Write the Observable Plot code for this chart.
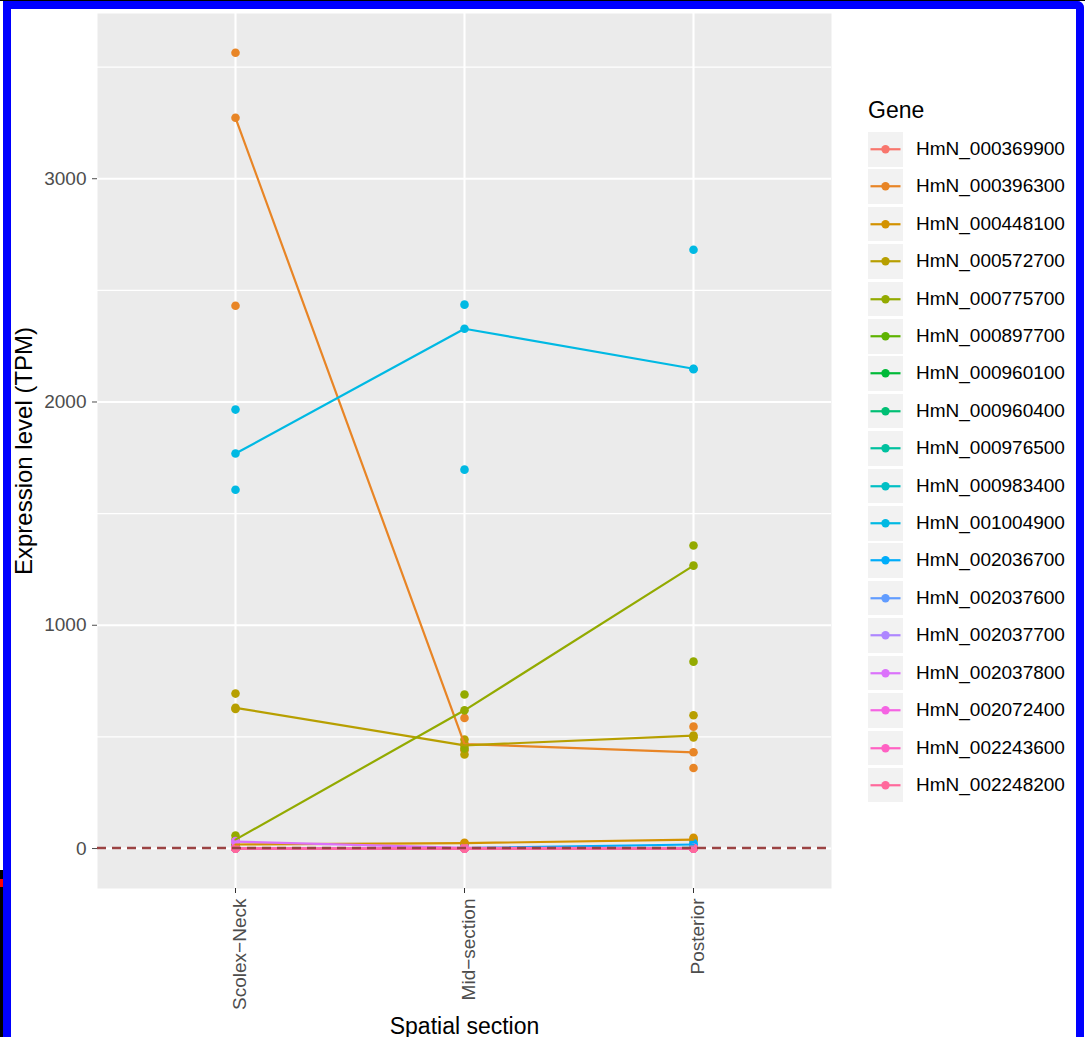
<!DOCTYPE html>
<html>
<head>
<meta charset="utf-8">
<script src="https://cdn.jsdelivr.net/npm/d3@7"></script>
<script src="https://cdn.jsdelivr.net/npm/@observablehq/plot@0.6"></script>
<style>
  html, body { margin: 0; padding: 0; background: #fff; }
  body { width: 1085px; height: 1037px; position: relative; overflow: hidden;
         font-family: "Liberation Sans", Arial, Helvetica, sans-serif; }
  #chart { position: absolute; left: 0; top: 0; }
  #legend { position: absolute; left: 868px; top: 98px; color: #000; }
  #legend .title { font-size: 23px; height: 34px; line-height: 24px; }
  #legend .row { height: 37.42px; display: flex; align-items: flex-start; }
  #legend .key { width: 35px; height: 34.5px; background: #F2F2F2; }
  #legend .lab { font-size: 19px; margin-left: 13px; line-height: 34.5px; }
  .frame { position: absolute; left: 3px; top: 1px; width: 1065px; height: 1100px;
           border-top: 8px solid #0000FF; border-left: 8px solid #0000FF; border-right: 8px solid #0000FF;
           border-top-right-radius: 7px; pointer-events: none; }
  .topline { position: absolute; left: 0; top: 0; width: 1085px; height: 1px; background: #000; }
  .leftblack { position: absolute; left: 0; top: 870px; width: 3px; height: 167px; background: #000; }
  .leftred { position: absolute; left: 0; top: 879px; width: 3px; height: 8px; background: #f00; }
</style>
</head>
<body>
<div id="chart"></div>
<div id="legend"></div>
<div class="topline"></div>
<div class="leftblack"></div>
<div class="leftred"></div>
<div class="frame"></div>
<script>
// ---------------- data ----------------
const sections = ["Scolex\u2212Neck", "Mid\u2212section", "Posterior"];
const genes = [
  "HmN_000369900", "HmN_000396300", "HmN_000448100", "HmN_000572700",
  "HmN_000775700", "HmN_000897700", "HmN_000960100", "HmN_000960400",
  "HmN_000976500", "HmN_000983400", "HmN_001004900", "HmN_002036700",
  "HmN_002037600", "HmN_002037700", "HmN_002037800", "HmN_002072400",
  "HmN_002243600", "HmN_002248200"
];
// three replicate values (TPM) per gene, one array per spatial section
const scolexNeck = [
  [2, 1, 0], [3564, 3273, 2431], [22, 18, 14], [694, 630, 625],
  [58, 40, 30], [3, 2, 1], [2, 1, 1], [1, 1, 0],
  [2, 1, 0], [3, 2, 1], [1966, 1769, 1607], [2, 1, 1],
  [3, 2, 1], [4, 2, 1], [33, 31, 28], [2, 1, 0],
  [1, 0, 0], [1, 0, 0]
];
const midSection = [
  [1, 0, 0], [585, 468, 440], [26, 24, 20], [488, 462, 421],
  [690, 619, 448], [2, 1, 0], [1, 1, 0], [1, 0, 0],
  [1, 1, 0], [2, 1, 0], [2436, 2328, 1697], [3, 2, 1],
  [2, 1, 0], [2, 1, 1], [4, 3, 2], [1, 0, 0],
  [1, 0, 0], [0, 0, 0]
];
const posterior = [
  [2, 1, 0], [546, 431, 361], [48, 40, 36], [597, 506, 498],
  [1357, 1267, 837], [3, 2, 1], [2, 1, 0], [1, 1, 0],
  [2, 1, 0], [4, 3, 2], [2682, 2149, 2147], [25, 18, 12],
  [3, 2, 1], [2, 1, 0], [3, 2, 1], [2, 1, 0],
  [1, 0, 0], [1, 0, 0]
];
const yTicks = [0, 1000, 2000, 3000];
const yMinorTicks = [500, 1500, 2500, 3500];
const threshold = [2];

// ---------------- build long table ----------------
const bySection = [scolexNeck, midSection, posterior];
const rows = [];
genes.forEach((g, gi) => {
  sections.forEach((s, si) => {
    bySection[si][gi].forEach(v => rows.push({gene: g, section: s, value: v}));
  });
});

// ggplot2 default hue palette (hcl, polar Luv, l=65, c=100)
function hclLuv(h, c, l) {
  const hr = h * Math.PI / 180;
  const U = c * Math.cos(hr), V = c * Math.sin(hr);
  const Y = 100 * (l > 7.999592 ? Math.pow((l + 16) / 116, 3) : l / 903.3);
  const XN = 95.047, YN = 100, ZN = 108.883;
  const t = XN + 15 * YN + 3 * ZN, un = 4 * XN / t, vn = 9 * YN / t;
  const u = U / (13 * l) + un, v = V / (13 * l) + vn;
  const X = 9 * Y * u / (4 * v);
  const Z = -X / 3 - 5 * Y + 3 * Y / v;
  const lin = [
    ( 3.240479 * X - 1.537150 * Y - 0.498535 * Z) / 100,
    (-0.969256 * X + 1.875992 * Y + 0.041556 * Z) / 100,
    ( 0.055648 * X - 0.204043 * Y + 1.057311 * Z) / 100
  ];
  const gam = x => x <= 0.0031308 ? 12.92 * x : 1.055 * Math.pow(x, 1 / 2.4) - 0.055;
  const rgb = lin.map(x => Math.round(255 * Math.min(1, Math.max(0, gam(x)))));
  return d3.rgb(rgb[0], rgb[1], rgb[2]).formatHex();
}
const palette = genes.map((g, i) => hclLuv(15 + 360 * i / genes.length, 100, 65));

const FONT = '"Liberation Sans", Arial, Helvetica, sans-serif';

const chart = Plot.plot({
  width: 850,
  height: 1037,
  marginLeft: 97,
  marginRight: 19,
  marginTop: 13,
  marginBottom: 149,
  style: { fontFamily: FONT, fontSize: "19px", background: "transparent", overflow: "visible" },
  x: { type: "point", domain: sections, padding: 0.6, axis: null },
  y: { domain: [-179, 3740], axis: null },
  color: { domain: genes, range: palette },
  marks: [
    Plot.frame({ fill: "#EBEBEB", stroke: null }),
    Plot.ruleY(yMinorTicks, { stroke: "#fff", strokeWidth: 1.1 }),
    Plot.ruleY(yTicks, { stroke: "#fff", strokeWidth: 2.1 }),
    Plot.ruleX(sections, { stroke: "#fff", strokeWidth: 2.1 }),
    Plot.dot(rows, { x: "section", y: "value", fill: "gene", r: 4.3, stroke: null }),
    Plot.lineY(rows, Plot.groupX({ y: "median" },
      { x: "section", y: "value", z: "gene", stroke: "gene", strokeWidth: 2.2 })),
    Plot.ruleY(threshold, { stroke: "#9B4343", strokeWidth: 2.5, strokeDasharray: "9,6" }),
    Plot.axisY({ ticks: yTicks, tickSize: 5, tickPadding: 6, label: null, color: "#4D4D4D",
                 fontSize: 19, tickFormat: d => String(d) }),
    Plot.axisX({ tickSize: 5, label: null, color: "#333333", tickFormat: () => "" }),
    Plot.text(sections, { x: d => d, frameAnchor: "bottom", rotate: -90, textAnchor: "end",
                          dy: 10, dx: 10, fill: "#4D4D4D", fontSize: 19 }),
    Plot.text(["Expression level (TPM)"], { frameAnchor: "left", rotate: -90, dx: -73,
                          textAnchor: "middle", fill: "#000", fontSize: 24 }),
    Plot.text(["Spatial section"], { frameAnchor: "bottom", dy: 145, lineAnchor: "bottom",
                          textAnchor: "middle", fill: "#000", fontSize: 23 })
  ]
});
document.getElementById("chart").appendChild(chart);

// ---------------- legend ----------------
const legend = document.getElementById("legend");
const title = document.createElement("div");
title.className = "title";
title.textContent = "Gene";
legend.appendChild(title);
genes.forEach((g, i) => {
  const row = document.createElement("div");
  row.className = "row";
  const key = document.createElement("div");
  key.className = "key";
  key.innerHTML = `<svg width="35" height="34.5"><line x1="2.5" x2="32.5" y1="17.25" y2="17.25" stroke="${palette[i]}" stroke-width="2.2"/><circle cx="17.5" cy="17.25" r="4.2" fill="${palette[i]}"/></svg>`;
  const lab = document.createElement("div");
  lab.className = "lab";
  lab.textContent = g;
  row.appendChild(key);
  row.appendChild(lab);
  legend.appendChild(row);
});
</script>
</body>
</html>
